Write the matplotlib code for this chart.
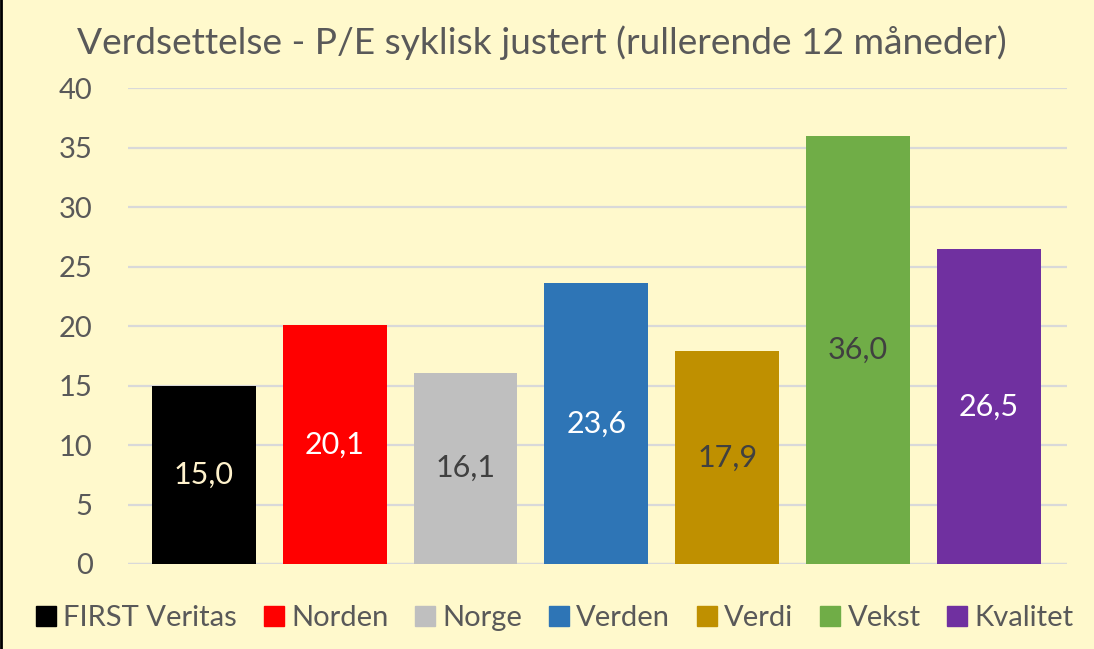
import matplotlib
matplotlib.use('Agg')
import matplotlib.pyplot as plt
from matplotlib.lines import Line2D

# P/E syklisk justert (rullerende 12 mnd)
categories = ['FIRST Veritas', 'Norden', 'Norge', 'Verden', 'Verdi', 'Vekst', 'Kvalitet']
values = [15.0, 20.1, 16.1, 23.6, 17.9, 36.0, 26.5]
colors = ['#000000', '#FF0000', '#BFBFBF', '#2E75B6', '#BF9000', '#70AD47', '#7030A0']
label_colors = ['#FFF2CC', '#FFFFFF', '#404040', '#FFFFFF', '#404040', '#404040', '#FFFFFF']
yticks = [0, 5, 10, 15, 20, 25, 30, 35, 40]

BG = '#FFF9CC'
TXT = '#595959'
plt.rcParams['font.family'] = ['Lato', 'DejaVu Sans']

fig = plt.figure(figsize=(10.94, 6.49), dpi=100, facecolor=BG)
ax = fig.add_axes([0.117, 0.131, 0.858, 0.733], facecolor=BG)

x = list(range(len(categories)))
ax.bar(x, values, width=0.794, color=colors, zorder=3)
for xi, v, lc in zip(x, values, label_colors):
    ax.text(xi, v / 2, f'{v:.1f}'.replace('.', ','), ha='center', va='center',
            fontsize=22, color=lc, zorder=4)

ax.set_xlim(-0.581, 6.596)
ax.set_ylim(0, 40)
ax.set_yticks(yticks)
ax.set_yticklabels([str(t) for t in yticks], fontsize=21, color=TXT)
ax.set_xticks([])
ax.tick_params(axis='y', length=0, pad=25.5)
ax.grid(axis='y', color='#D9D9D9', lw=1.6, zorder=0)
for s in ax.spines.values():
    s.set_visible(False)
ax.axhline(0, color='#D9D9D9', lw=1.6, zorder=2)

fig.text(0.495, 0.935, 'Verdsettelse - P/E syklisk justert (rullerende 12 måneder)',
         ha='center', va='center', fontsize=26.7, color=TXT)

handles = [Line2D([], [], marker='s', ls='none', color=c, markersize=15) for c in colors]
leg = fig.legend(handles, categories, loc='center', bbox_to_anchor=(0.505, 0.047), ncol=7,
                 frameon=False, fontsize=21, handletextpad=0.1, columnspacing=0.75,
                 handlelength=1.0, borderaxespad=0)
for t in leg.get_texts():
    t.set_color(TXT)

# thin black frame line on the left edge
fig.add_artist(Line2D([0.001, 0.001], [0, 1], color='black', lw=2, transform=fig.transFigure))

fig.savefig('out.png', dpi=100, facecolor=BG)
